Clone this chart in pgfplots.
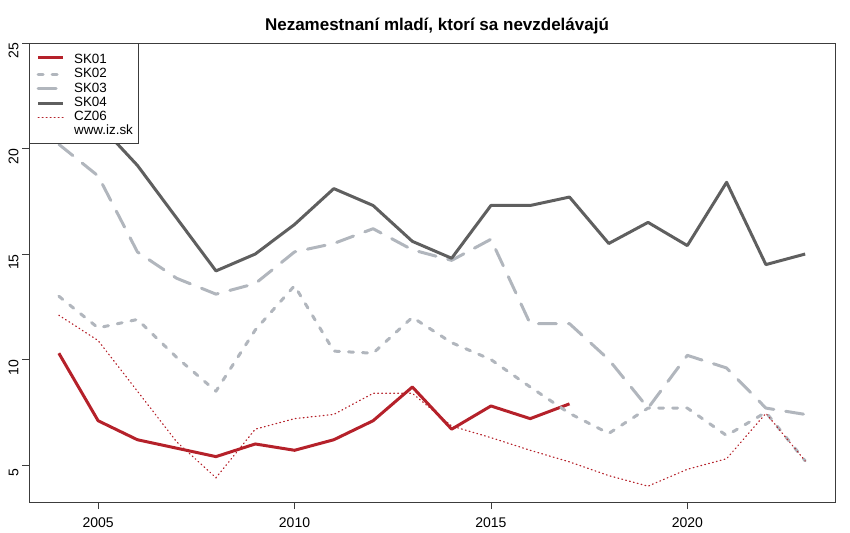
\documentclass[border=0pt]{standalone}
\usepackage{pgfplots}
\pgfplotsset{compat=1.18}
\usepackage{fontspec}
\setmainfont{Liberation Sans}
\definecolor{cred}{RGB}{181,33,42}
\definecolor{clight}{RGB}{177,182,189}
\definecolor{cdark}{RGB}{95,95,95}
\definecolor{cbox}{RGB}{60,60,60}
\begin{document}
\begin{tikzpicture}
\useasboundingbox (-29pt,-30pt) rectangle (821pt,502pt);
\begin{axis}[
  at={(0pt,0pt)}, anchor=south west,
  width=806pt, height=459pt, scale only axis,
  xmin=2003.24, xmax=2023.76, ymin=3.25, ymax=25,
  xtick={2005,2010,2015,2020}, ytick={5,10,15,20,25},
  /pgf/number format/assume math mode=true,
  x tick label style={/pgf/number format/1000 sep={}, font=\fontsize{14}{15}\selectfont, yshift=-5.5pt},
  y tick label style={rotate=90, anchor=south, font=\fontsize{14}{15}\selectfont, xshift=-8pt},
  tick align=outside, major tick length=7pt,
  tick style={cbox, line width=0.8pt},
  axis line style={cbox, line width=0.8pt},
  xtick pos=bottom, ytick pos=left,
  legend style={at={(0,1)}, anchor=north west, draw=cbox, line width=0.8pt, fill=white,
    font=\fontsize{13.4}{14}\selectfont, inner xsep=4.6pt, inner ysep=4.7pt,
    nodes={text height=9.5pt, text depth=2.8pt, inner sep=1pt},
    /tikz/row 1/.style={nodes={text height=14.4pt}},
    /tikz/every odd column/.append style={column sep=8.4pt}},
  legend cell align=left,
  legend image code/.code={\path (-2.7pt,0pt); \draw[#1] (0pt,0pt) -- (25pt,0pt);},
]
\addplot[cred, line width=3pt, line join=round] coordinates {
(2004,10.3)(2005,7.1)(2006,6.2)(2007,5.8)(2008,5.4)(2009,6.0)(2010,5.7)(2011,6.2)(2012,7.1)(2013,8.7)(2014,6.7)(2015,7.8)(2016,7.2)(2017,7.9)};
\addlegendentry{SK01}
\addplot[clight, line width=3pt, line join=round, line cap=round, dash pattern=on 5pt off 9pt] coordinates {
(2004,13.0)(2005,11.5)(2006,11.9)(2007,10.1)(2008,8.5)(2009,11.4)(2010,13.5)(2011,10.4)(2012,10.3)(2013,12.0)(2014,10.8)(2015,10.0)(2016,8.7)(2017,7.45)(2018,6.5)(2019,7.7)(2020,7.7)(2021,6.4)(2022,7.5)(2023,5.2)};
\addlegendentry{SK02}
\addplot[clight, line width=3pt, line join=round, line cap=round, dash pattern=on 18pt off 12pt] coordinates {
(2004,20.2)(2005,18.7)(2006,15.1)(2007,13.85)(2008,13.1)(2009,13.6)(2010,15.1)(2011,15.5)(2012,16.2)(2013,15.2)(2014,14.7)(2015,15.7)(2016,11.7)(2017,11.7)(2018,10.0)(2019,7.7)(2020,10.2)(2021,9.6)(2022,7.7)(2023,7.4)};
\addlegendentry{SK03}
\addplot[cdark, line width=3pt, line join=round] coordinates {
(2004,21.6)(2005,21.2)(2006,19.2)(2007,16.7)(2008,14.2)(2009,15.0)(2010,16.4)(2011,18.1)(2012,17.3)(2013,15.6)(2014,14.8)(2015,17.3)(2016,17.3)(2017,17.7)(2018,15.5)(2019,16.5)(2020,15.4)(2021,18.4)(2022,14.5)(2023,15.0)};
\addlegendentry{SK04}
\addplot[cred, line width=1.2pt, line cap=round, dash pattern=on 0.8pt off 3.2pt] coordinates {
(2004,12.1)(2005,10.9)(2006,8.5)(2007,6.1)(2008,4.4)(2009,6.7)(2010,7.2)(2011,7.4)(2012,8.4)(2013,8.4)(2014,6.85)(2015,6.3)(2016,5.7)(2017,5.15)(2018,4.5)(2019,4.0)(2020,4.8)(2021,5.3)(2022,7.45)(2023,5.2)};
\addlegendentry{CZ06}
\addlegendimage{empty legend}
\addlegendentry{www.iz.sk}
\end{axis}
\node[font=\bfseries\fontsize{17}{19}\selectfont, anchor=base] at (408pt,471pt) {Nezamestnaní mladí, ktorí sa nevzdelávajú};
\end{tikzpicture}
\end{document}
